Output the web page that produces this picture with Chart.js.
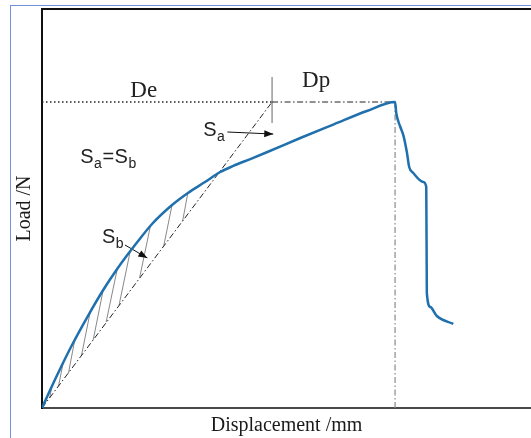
<!DOCTYPE html>
<html>
<head>
<meta charset="utf-8">
<script src="https://cdn.jsdelivr.net/npm/chart.js@4.4.1/dist/chart.umd.min.js"></script>
<style>
  html, body { margin: 0; padding: 0; background: #fff; overflow: hidden; }
  .page { position: relative; width: 531px; height: 438px; }
  .frame {
    position: absolute; left: 10px; top: 5px; width: 521px; height: 433px;
    border-left: 1px solid #7393d6; border-top: 1px solid #7393d6;
  }
  #load-graph { position: absolute; left: 0; top: 0; }
</style>
</head>
<body>
<div class="page">
  <div class="frame"></div>
  <canvas id="load-graph" width="531" height="438"></canvas>
</div>
<script>
// load / displacement record (mm, N)
var disp = [0, 0.17, 0.34, 0.51, 0.77, 1.04, 1.28, 1.62, 1.87, 2.21, 2.48, 2.77, 3.03, 3.25, 3.54,
  3.83, 4.39, 4.95, 5.52, 6.00, 6.02, 6.09, 6.14, 6.20, 6.24, 6.31, 6.48, 6.53, 6.54, 6.60, 6.71, 6.99];
var load = [0, 216, 422, 618, 892, 1157, 1366, 1627, 1804, 1990, 2108, 2216, 2314, 2373, 2441,
  2510, 2647, 2779, 2912, 3000, 2892, 2755, 2676, 2510, 2363, 2304, 2216, 2167, 1127, 990, 902, 824];

// peak and the equal-area split point
var peakDisp = 6.0;
var peakLoad = 3000;
var elasticDisp = 3.91;

// hatching between curve and secant (top on curve, foot on secant)
var hatchTopX = [0.17, 0.36, 0.56, 0.82, 1.04, 1.28, 1.50, 1.84, 2.21, 2.48];
var hatchTopY = [216, 443, 676, 943, 1157, 1366, 1539, 1779, 1990, 2113];
var hatchFootX = [0.13, 0.28, 0.45, 0.67, 0.87, 1.09, 1.31, 1.66, 2.07, 2.39];
var hatchFootY = [98, 213, 343, 512, 667, 843, 1010, 1279, 1593, 1833];

// label arrows: [fromX, fromY, toX, toY]
var arrowSa = [3.15, 2706, 3.93, 2686];
var arrowSb = [1.41, 1598, 1.79, 1471];

var xMax = 8.31;
var yMax = 3912;

function pts(xs, ys) {
  return xs.map(function (x, i) { return { x: x, y: ys[i] }; });
}

var hatchData = [];
hatchTopX.forEach(function (x, i) {
  hatchData.push({ x: x, y: hatchTopY[i] });
  hatchData.push({ x: hatchFootX[i], y: hatchFootY[i] });
  hatchData.push({ x: hatchFootX[i], y: null });
});

var dashDot = [6, 2.5, 1.5, 2.5];

// arrowheads at the end of datasets flagged with arrow: true
var arrowHeads = {
  id: 'arrowHeads',
  afterDatasetsDraw: function (chart) {
    var c = chart.ctx;
    chart.data.datasets.forEach(function (ds, i) {
      if (!ds.arrow) return;
      var els = chart.getDatasetMeta(i).data;
      var a = els[els.length - 2], b = els[els.length - 1];
      var ang = Math.atan2(b.y - a.y, b.x - a.x);
      c.save();
      c.fillStyle = '#111';
      c.translate(b.x, b.y);
      c.rotate(ang);
      c.beginPath();
      c.moveTo(0, 0);
      c.lineTo(-9, -3.5);
      c.lineTo(-9, 3.5);
      c.closePath();
      c.fill();
      c.restore();
    });
  }
};

// text labels placed in data units
var notes = {
  id: 'notes',
  afterDatasetsDraw: function (chart) {
    var c = chart.ctx, xs = chart.scales.x, ys = chart.scales.y;
    function serif(t, x, y) {
      c.font = '23px "Liberation Serif"';
      c.fillText(t, xs.getPixelForValue(x), ys.getPixelForValue(y));
    }
    // S with subscript, returns the end pixel
    function sub(main, s, px, py) {
      c.font = '20px "Liberation Sans"';
      c.fillText(main, px, py);
      px += c.measureText(main).width + 0.5;
      c.font = '14px "Liberation Sans"';
      c.fillText(s, px, py + 5);
      return px + c.measureText(s).width;
    }
    c.save();
    c.fillStyle = '#222';
    c.textBaseline = 'alphabetic';
    serif('De', 1.50, 3049);
    serif('Dp', 4.42, 3147);

    sub('S', 'a', xs.getPixelForValue(2.74), ys.getPixelForValue(2667));
    sub('S', 'b', xs.getPixelForValue(1.02), ys.getPixelForValue(1618));

    var px = sub('S', 'a', xs.getPixelForValue(0.65), ys.getPixelForValue(2402));
    c.font = '20px "Liberation Sans"';
    c.fillText('=', px + 0.5, ys.getPixelForValue(2402));
    px += c.measureText('=').width + 1;
    sub('S', 'b', px, ys.getPixelForValue(2402));
    c.restore();
  }
};

var ctx = document.getElementById('load-graph').getContext('2d');

var chart = new Chart(ctx, {
  type: 'scatter',
  data: {
    datasets: [{
      // measured curve
      data: pts(disp, load),
      showLine: true,
      borderColor: '#1f70ad',
      borderWidth: 2.5,
      cubicInterpolationMode: 'monotone',
      pointRadius: 0
    }, {
      // secant from origin to De at peak load
      data: pts([0, elasticDisp], [0, peakLoad]),
      showLine: true,
      borderColor: '#222',
      borderWidth: 1,
      borderDash: dashDot,
      pointRadius: 0
    }, {
      // peak load level, elastic part
      data: pts([0, elasticDisp], [peakLoad, peakLoad]),
      showLine: true,
      borderColor: '#222',
      borderWidth: 1.5,
      borderDash: [1.5, 2.5],
      pointRadius: 0
    }, {
      // peak load level, plastic part
      data: pts([elasticDisp, peakDisp], [peakLoad, peakLoad]),
      showLine: true,
      borderColor: '#222',
      borderWidth: 1.2,
      borderDash: dashDot,
      pointRadius: 0
    }, {
      // drop line at peak displacement
      data: pts([peakDisp, peakDisp], [peakLoad, 0]),
      showLine: true,
      borderColor: '#8a8a8a',
      borderWidth: 1.2,
      borderDash: dashDot,
      pointRadius: 0
    }, {
      // De / Dp separator
      data: pts([elasticDisp, elasticDisp], [3245, 2794]),
      showLine: true,
      borderColor: '#9a9a9a',
      borderWidth: 1.5,
      pointRadius: 0
    }, {
      data: hatchData,
      showLine: true,
      spanGaps: false,
      borderColor: '#6a6a6a',
      borderWidth: 0.8,
      pointRadius: 0
    }, {
      data: pts([arrowSa[0], arrowSa[2]], [arrowSa[1], arrowSa[3]]),
      showLine: true,
      arrow: true,
      borderColor: '#111',
      borderWidth: 1,
      pointRadius: 0
    }, {
      data: pts([arrowSb[0], arrowSb[2]], [arrowSb[1], arrowSb[3]]),
      showLine: true,
      arrow: true,
      borderColor: '#111',
      borderWidth: 1,
      pointRadius: 0
    }]
  },
  options: {
    responsive: false,
    animation: false,
    layout: { padding: { top: 9, left: 0, right: 0, bottom: 0 } },
    plugins: { legend: { display: false }, tooltip: { enabled: false } },
    scales: {
      x: {
        type: 'linear',
        position: 'bottom',
        min: 0,
        max: xMax,
        grid: { display: false, drawTicks: false },
        ticks: { display: false },
        border: { display: true, color: '#4a4a4a', width: 2 },
        title: {
          display: true,
          text: 'Displacement /mm',
          color: '#1a1a1a',
          font: { family: '"Liberation Serif"', size: 20 },
          padding: { top: 6, bottom: 0 }
        }
      },
      xTop: {
        type: 'linear',
        position: 'top',
        display: true,
        min: 0,
        max: xMax,
        grid: { display: false, drawTicks: false },
        ticks: { display: false },
        border: { display: true, color: '#111', width: 2 }
      },
      y: {
        type: 'linear',
        min: 0,
        max: yMax,
        grid: { display: false, drawTicks: false },
        ticks: { display: false },
        border: { display: true, color: '#111', width: 2 },
        title: {
          display: true,
          text: 'Load /N',
          color: '#1a1a1a',
          font: { family: '"Liberation Serif"', size: 20 },
          padding: { top: 13, bottom: 5 }
        }
      }
    }
  },
  plugins: [arrowHeads, notes]
});
</script>
</body>
</html>
